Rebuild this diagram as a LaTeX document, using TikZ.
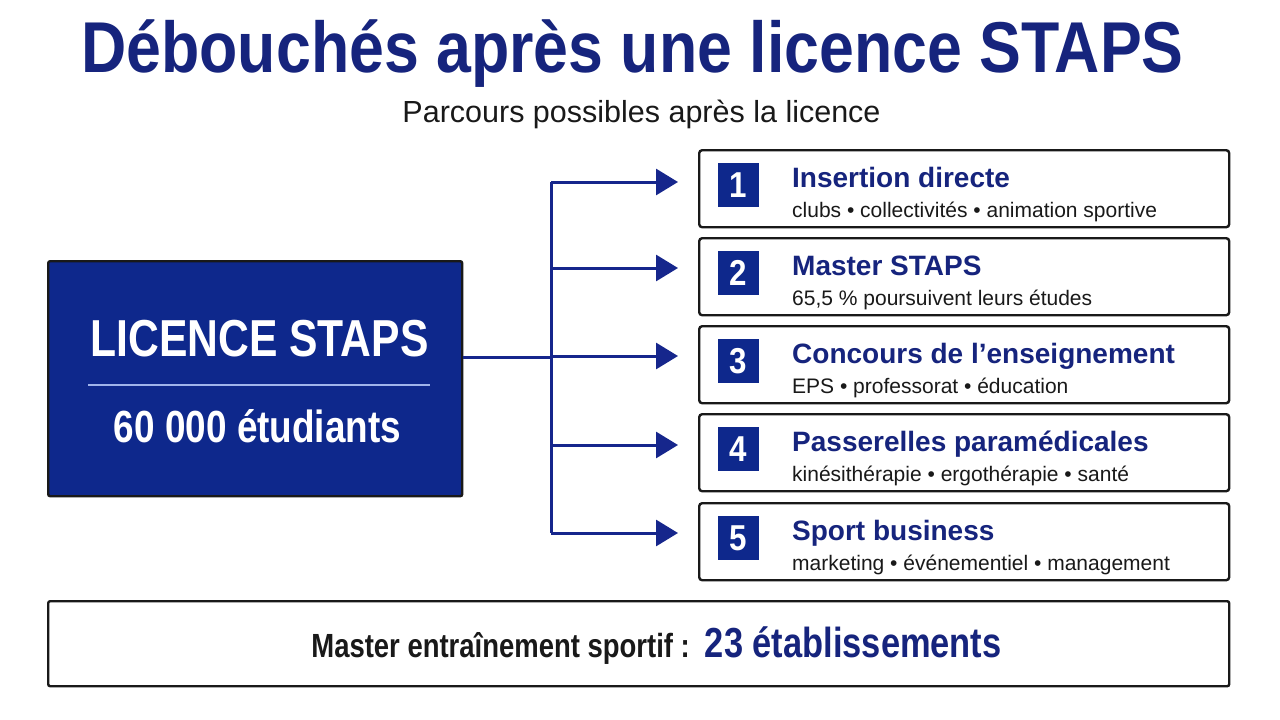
\documentclass[tikz,border=0pt]{standalone}
\usepackage{fontspec}
\setmainfont{Liberation Sans}
\newfontfamily\narA[FakeStretch=0.87]{Liberation Sans}
\newfontfamily\narB[FakeStretch=0.82]{Liberation Sans}
\usetikzlibrary{arrows.meta}
\definecolor{navy}{RGB}{22,36,125}
\definecolor{boxblue}{RGB}{14,40,140}
\definecolor{arrowblue}{RGB}{22,38,140}
\definecolor{rule}{RGB}{160,180,235}
\definecolor{ink}{RGB}{25,25,25}
\newcommand{\fs}[1]{\fontsize{#1}{#1}\selectfont}
\tikzset{
  optbox/.style={draw=ink, line width=2.4pt, rounded corners=3pt, fill=white, minimum width=530pt, minimum height=77pt, anchor=north west, inner sep=0pt},
  numbox/.style={fill=boxblue, minimum width=41pt, minimum height=44pt, inner sep=0pt, anchor=north west, text=white, font=\narA\bfseries\fs{36}},
  opttitle/.style={anchor=base west, inner sep=0pt, text=navy, font=\bfseries\fs{28}},
  optsub/.style={anchor=base west, inner sep=0pt, text=ink, font=\fs{21}},
  branch/.style={draw=arrowblue, line width=3pt},
  arrowbranch/.style={branch, -{Triangle[length=22pt, width=26pt]}, shorten >=20pt},
}
\begin{document}
\begin{tikzpicture}[x=1pt, y=-1pt]
\useasboundingbox[fill=white] (0,0) rectangle (1280,720);
% title
\node[anchor=base, inner sep=0pt, text=navy, font=\narA\bfseries\fs{72}] (title) at (632.5,72) {Débouchés après une licence STAPS};
\node[anchor=base, inner sep=0pt, text=ink, font=\fs{30.5}] (subtitle) at (641.5,122) {Parcours possibles après la licence};
% left box
\node[draw=ink, line width=2.4pt, rounded corners=2pt, fill=boxblue, minimum width=414pt, minimum height=235pt, anchor=north west, inner sep=0pt] (lic) at (47,260) {};
\node[anchor=base, inner sep=0pt, text=white, font=\narB\bfseries\fs{52}] (lictitle) at (259.5,356) {LICENCE STAPS};
\draw[rule, line width=1.5pt] (88,385) coordinate (r1) -- (430,385) coordinate (r2);
\node[anchor=base, inner sep=0pt, text=white, font=\narB\bfseries\fs{45}] (licnum) at (257.5,442) {60 000 étudiants};
% option boxes
\foreach \i/\top/\ttl/\sub in {
 1/149/{Insertion directe}/{clubs • collectivités • animation sportive},
 2/237/{Master STAPS}/{65,5 \% poursuivent leurs études},
 3/325/{Concours de l’enseignement}/{EPS • professorat • éducation},
 4/413/{Passerelles paramédicales}/{kinésithérapie • ergothérapie • santé},
 5/502/{Sport business}/{marketing • événementiel • management}}{
  \node[optbox] (b\i) at (698,\top) {};
  \node[numbox] (n\i) at (718,\top+14) {\i};
  \node[opttitle] (t\i) at (792,\top+38) {\ttl};
  \node[optsub] (s\i) at (792,\top+68) {\sub};
}
% connectors
\coordinate (hub) at (551,357);
\coordinate (j1) at (551,182);
\coordinate (j2) at (551,268);
\coordinate (j3) at (551,356);
\coordinate (j4) at (551,445);
\coordinate (j5) at (551,533);
\draw[branch] (lic.east |- hub) -- (hub);
\draw[branch] (j1) -- (j5);
\foreach \i in {1,...,5}{
  \draw[arrowbranch] (j\i) -- (j\i -| b\i.west);
}
% bottom box
\node[draw=ink, line width=2.4pt, rounded corners=2pt, fill=white, minimum width=1181pt, minimum height=85pt, anchor=north west, inner sep=0pt] (bottom) at (47,600) {};
\node[anchor=base, inner sep=0pt] (btext) at (656.5,657) {{\narB\bfseries\fs{33.5}\color{ink}Master entraînement sportif :}\hspace{15pt}{\narB\bfseries\fs{42}\color{navy}23 établissements}};
\end{tikzpicture}
\end{document}
